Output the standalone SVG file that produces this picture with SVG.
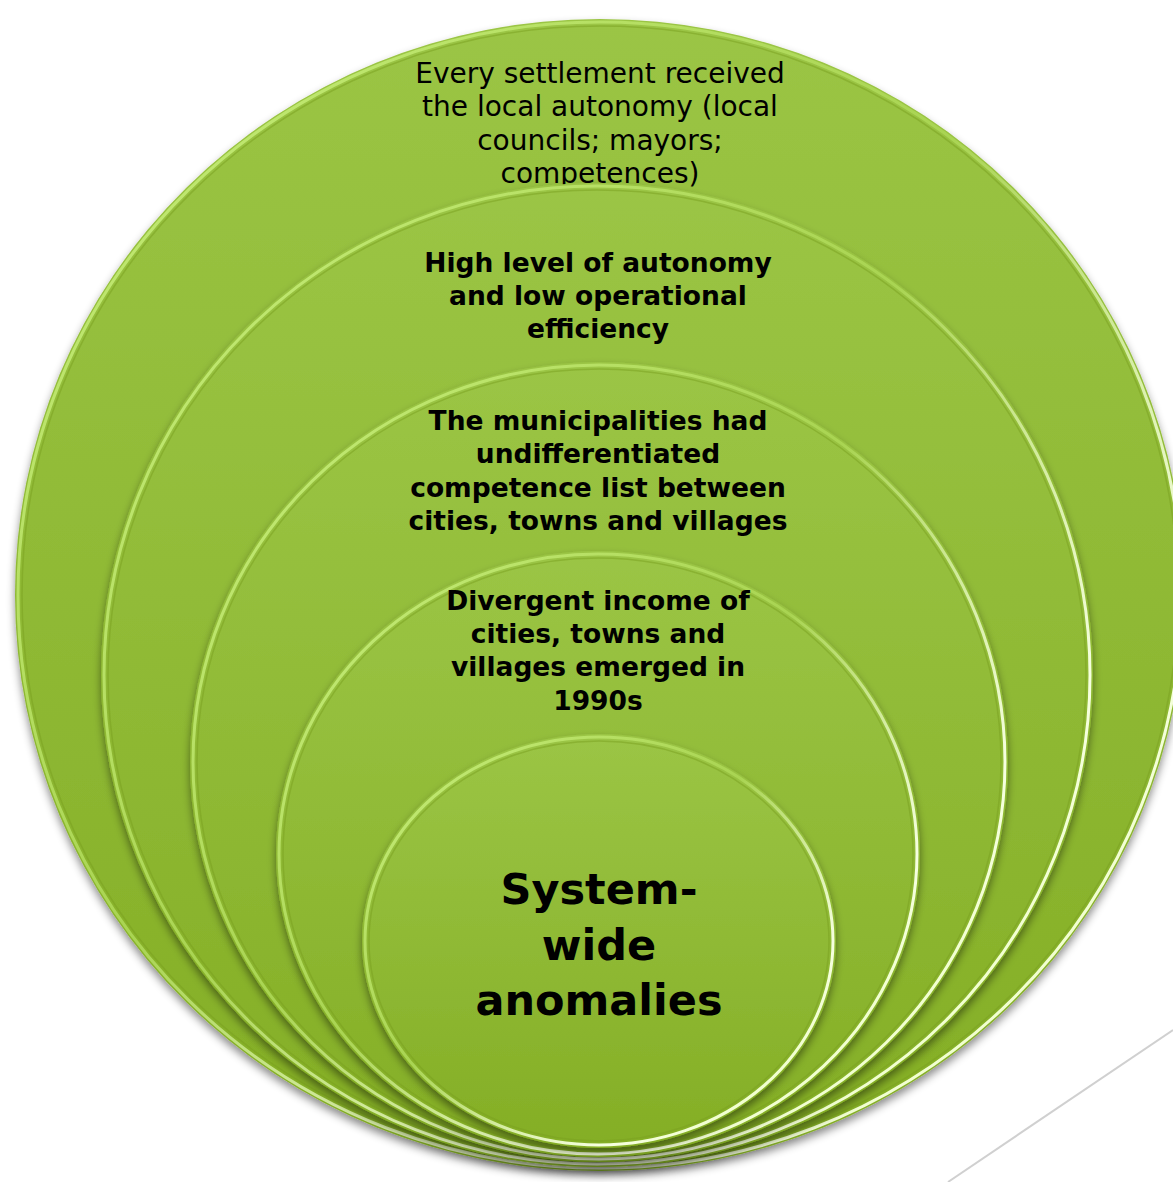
<svg xmlns="http://www.w3.org/2000/svg" width="1173" height="1182" viewBox="0 0 1173 1182">
  <defs>
    <linearGradient id="fill" x1="0" y1="0" x2="0" y2="1">
      <stop offset="0" stop-color="#9bc545"/>
      <stop offset="1" stop-color="#84ae25"/>
    </linearGradient>
    <linearGradient id="rim" x1="0" y1="0" x2="1" y2="1">
      <stop offset="0" stop-color="#c8ef7c"/>
      <stop offset="0.45" stop-color="#a9d452"/>
      <stop offset="0.75" stop-color="#f6ffe0"/>
      <stop offset="1" stop-color="#eaffb8"/>
    </linearGradient>
    <filter id="shadow" x="-10%" y="-10%" width="120%" height="125%">
      <feDropShadow dx="0" dy="5" stdDeviation="4" flood-color="#000" flood-opacity="0.45"/>
    </filter>
  </defs>
  <style>
    .disc { fill: url(#fill); filter: url(#shadow); }
    .rim { fill: none; stroke: url(#rim); stroke-width: 3; }
    .bevel { fill: none; stroke: #7a9f20; stroke-width: 1.5; opacity: 0.5; }
    .reg { font-family: "DejaVu Sans", Verdana, sans-serif; font-size: 28px; fill: #000; text-anchor: middle; }
    .bold { font-family: "DejaVu Sans", Verdana, sans-serif; font-size: 26.5px; font-weight: bold; fill: #000; text-anchor: middle; }
    .big { font-family: "DejaVu Sans", Verdana, sans-serif; font-size: 43px; font-weight: bold; fill: #000; text-anchor: middle; }
  </style>
  <rect width="1173" height="1182" fill="#ffffff"/>
  <g id="connectors">
    <line x1="1173" y1="1030" x2="948" y2="1182" stroke="#d0d0d0" stroke-width="2"/>
  </g>
  <g id="node1">
    <ellipse class="disc" cx="600" cy="595" rx="585" ry="576"/>
    <ellipse class="rim" cx="600" cy="595" rx="582" ry="573"/>
    <ellipse class="bevel" cx="600" cy="595" rx="578" ry="569"/>
    <text class="reg" x="600" y="83">Every settlement received</text>
    <text class="reg" x="600" y="116">the local autonomy (local</text>
    <text class="reg" x="600" y="150">councils; mayors;</text>
    <text class="reg" x="600" y="183">competences)</text>
  </g>
  <g id="node2">
    <ellipse class="disc" cx="597" cy="675" rx="496" ry="492"/>
    <ellipse class="rim" cx="597" cy="675" rx="493" ry="489"/>
    <ellipse class="bevel" cx="597" cy="675" rx="489" ry="485"/>
    <text class="bold" x="598" y="272">High level of autonomy</text>
    <text class="bold" x="598" y="305">and low operational</text>
    <text class="bold" x="598" y="338">efficiency</text>
  </g>
  <g id="node3">
    <ellipse class="disc" cx="599" cy="762" rx="409" ry="400"/>
    <ellipse class="rim" cx="599" cy="762" rx="406" ry="397"/>
    <ellipse class="bevel" cx="599" cy="762" rx="402" ry="393"/>
    <text class="bold" x="598" y="430">The municipalities had</text>
    <text class="bold" x="598" y="463">undifferentiated</text>
    <text class="bold" x="598" y="497">competence list between</text>
    <text class="bold" x="598" y="530">cities, towns and villages</text>
  </g>
  <g id="node4">
    <ellipse class="disc" cx="598" cy="854" rx="322" ry="303"/>
    <ellipse class="rim" cx="598" cy="854" rx="319" ry="300"/>
    <ellipse class="bevel" cx="598" cy="854" rx="315" ry="296"/>
    <text class="bold" x="598" y="610">Divergent income of</text>
    <text class="bold" x="598" y="643">cities, towns and</text>
    <text class="bold" x="598" y="676">villages emerged in</text>
    <text class="bold" x="598" y="710">1990s</text>
  </g>
  <g id="node5">
    <ellipse class="disc" cx="599" cy="941" rx="237" ry="207"/>
    <ellipse class="rim" cx="599" cy="941" rx="234" ry="204"/>
    <ellipse class="bevel" cx="599" cy="941" rx="230" ry="200"/>
    <text class="big" x="599" y="904">System-</text>
    <text class="big" x="599" y="960">wide</text>
    <text class="big" x="599" y="1015">anomalies</text>
  </g>
</svg>
